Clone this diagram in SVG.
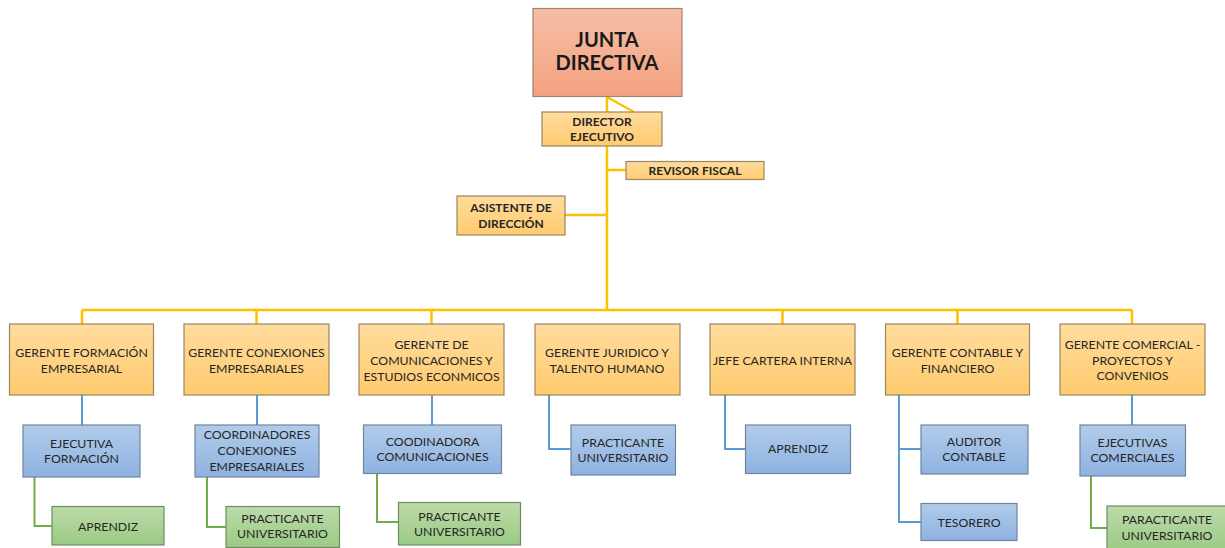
<svg xmlns="http://www.w3.org/2000/svg" width="1225" height="548" viewBox="0 0 1225 548">
<defs>
<linearGradient id="gRed" x1="0" y1="0" x2="0" y2="1"><stop offset="0" stop-color="#F6BEA7"/><stop offset="1" stop-color="#F4A27F"/></linearGradient>
<linearGradient id="gOr" x1="0" y1="0" x2="0" y2="1"><stop offset="0" stop-color="#FFDC9E"/><stop offset="1" stop-color="#FFCB6E"/></linearGradient>
<linearGradient id="gBl" x1="0" y1="0" x2="0" y2="1"><stop offset="0" stop-color="#B1CCEB"/><stop offset="1" stop-color="#8EB2E0"/></linearGradient>
<linearGradient id="gGr" x1="0" y1="0" x2="0" y2="1"><stop offset="0" stop-color="#BCDBA9"/><stop offset="1" stop-color="#9BCA84"/></linearGradient>
</defs>
<style>
.red{fill:url(#gRed);stroke:#A48273;stroke-width:1.2}
.or{fill:url(#gOr);stroke:#9A8660;stroke-width:1.2}
.bl{fill:url(#gBl);stroke:#6F849E;stroke-width:1.2}
.gr{fill:url(#gGr);stroke:#6E8C60;stroke-width:1.2}
text{font-family:Lato,"Liberation Sans",sans-serif;fill:#262626;text-anchor:middle;font-size:12.3px}
.b{font-weight:bold;font-size:12px}
.big{font-weight:bold;font-size:20px;fill:#1a1a1a}
.gold{fill:none;stroke:#FFC000;stroke-width:2.5}
.blue{fill:none;stroke:#5B9BD5;stroke-width:2}
.green{fill:none;stroke:#70AD47;stroke-width:2}
</style>
<rect width="1225" height="548" fill="#fff"/>
<g id="connectors">
<path class="gold" d="M607 96V310M607 97L634 112M607 170H626M565 215H607M82 310H1132M82 310V324M256.5 310V324M431.5 310V324M782.5 310V324M957.5 310V324M1132 310V324"/>
<path class="blue" d="M82 395V425M257 395V425M432 395V425M549 395V449H571M725 395V449H745M899 395V522H921M899 449H921M1132 395V425"/>
<path class="green" d="M34.5 477V526H52M207 477V527H226M377 473V522H398M1091 476V528H1107"/>
</g>
<g id="junta"><rect class="red" x="533" y="8.5" width="149" height="88"/><text class="big" x="607" y="47">JUNTA</text><text class="big" x="607" y="70">DIRECTIVA</text></g>
<g id="director"><rect class="or" x="542" y="112" width="120" height="34"/><text class="b" x="602" y="125.5">DIRECTOR</text><text class="b" x="602" y="141">EJECUTIVO</text></g>
<g id="revisor"><rect class="or" x="626" y="161.5" width="138" height="18"/><text class="b" x="695" y="175">REVISOR FISCAL</text></g>
<g id="asistente"><rect class="or" x="457" y="196" width="108" height="39"/><text class="b" x="511" y="211.5">ASISTENTE DE</text><text class="b" x="511" y="227.5">DIRECCIÓN</text></g>
<g id="g1"><rect class="or" x="9.5" y="324" width="144" height="71"/><text x="81.5" y="356.5">GERENTE FORMACIÓN</text><text x="81.5" y="373">EMPRESARIAL</text></g>
<g id="g2"><rect class="or" x="184" y="324" width="145" height="71"/><text x="256.5" y="356.5">GERENTE CONEXIONES</text><text x="256.5" y="373">EMPRESARIALES</text></g>
<g id="g3"><rect class="or" x="359" y="324" width="145" height="71"/><text x="431.5" y="348.5">GERENTE DE</text><text x="431.5" y="364.5">COMUNICACIONES Y</text><text x="431.5" y="380.5">ESTUDIOS ECONMICOS</text></g>
<g id="g4"><rect class="or" x="535" y="324" width="145" height="71"/><text x="607" y="357">GERENTE JURIDICO Y</text><text x="607" y="372.5">TALENTO HUMANO</text></g>
<g id="g5"><rect class="or" x="710" y="324" width="145" height="71"/><text x="782.5" y="365">JEFE CARTERA INTERNA</text></g>
<g id="g6"><rect class="or" x="885.5" y="324" width="144" height="71"/><text x="957.5" y="356.5">GERENTE CONTABLE Y</text><text x="957.5" y="372.5">FINANCIERO</text></g>
<g id="g7"><rect class="or" x="1060" y="324" width="145" height="71"/><text x="1132.5" y="349">GERENTE COMERCIAL -</text><text x="1132.5" y="364.5">PROYECTOS Y</text><text x="1132.5" y="380">CONVENIOS</text></g>
<g id="b1"><rect class="bl" x="23" y="425" width="117" height="52"/><text x="81.5" y="447.5">EJECUTIVA</text><text x="81.5" y="463">FORMACIÓN</text></g>
<g id="b2"><rect class="bl" x="195" y="425" width="124" height="52"/><text x="257" y="439">COORDINADORES</text><text x="257" y="455">CONEXIONES</text><text x="257" y="470.5">EMPRESARIALES</text></g>
<g id="b3"><rect class="bl" x="363.5" y="425" width="138" height="48.5"/><text x="432.5" y="445.5">COODINADORA</text><text x="432.5" y="461">COMUNICACIONES</text></g>
<g id="b4"><rect class="bl" x="571" y="425" width="104.5" height="50"/><text x="623" y="446.5">PRACTICANTE</text><text x="623" y="461.5">UNIVERSITARIO</text></g>
<g id="b5"><rect class="bl" x="745.5" y="425" width="105" height="48.5"/><text x="798" y="453">APRENDIZ</text></g>
<g id="b6"><rect class="bl" x="921" y="425" width="107" height="49"/><text x="974" y="445.5">AUDITOR</text><text x="974" y="461">CONTABLE</text></g>
<g id="b7"><rect class="bl" x="921" y="503.5" width="96" height="37"/><text x="969" y="526.5">TESORERO</text></g>
<g id="b8"><rect class="bl" x="1080" y="425" width="105.5" height="51"/><text x="1132.5" y="446.5">EJECUTIVAS</text><text x="1132.5" y="461.5">COMERCIALES</text></g>
<g id="v1"><rect class="gr" x="52" y="506.5" width="112" height="38.5"/><text x="108" y="530.5">APRENDIZ</text></g>
<g id="v2"><rect class="gr" x="226" y="506.5" width="113.5" height="41"/><text x="282.5" y="523">PRACTICANTE</text><text x="282.5" y="538">UNIVERSITARIO</text></g>
<g id="v3"><rect class="gr" x="398.5" y="502.5" width="122" height="42.5"/><text x="459.5" y="520.5">PRACTICANTE</text><text x="459.5" y="535.5">UNIVERSITARIO</text></g>
<g id="v4"><rect class="gr" x="1107" y="506" width="122" height="46"/><text x="1167" y="524">PARACTICANTE</text><text x="1167" y="539.5">UNIVERSITARIO</text></g>
</svg>
